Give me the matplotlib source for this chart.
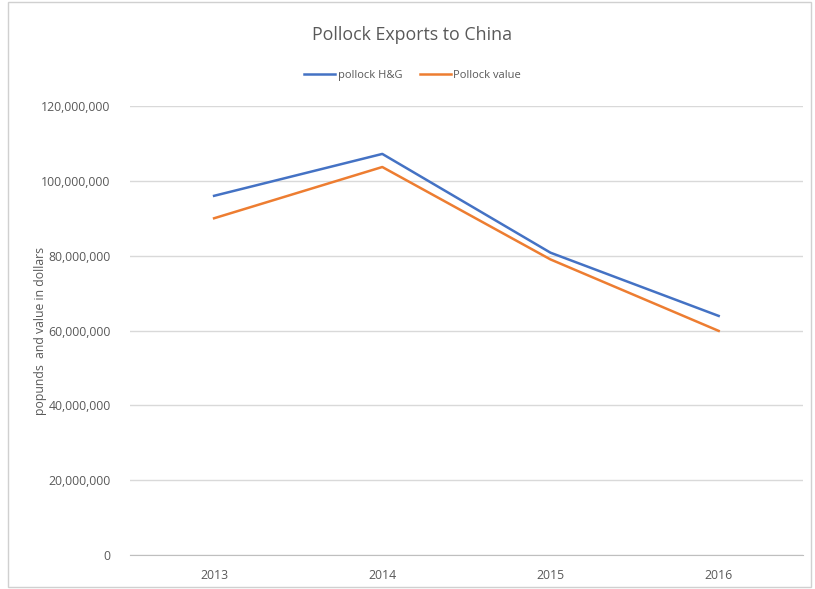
import matplotlib.pyplot as plt
from matplotlib.patches import Rectangle
from matplotlib.ticker import FuncFormatter

# yearly pollock exports to China
years = ['2013', '2014', '2015', '2016']
hg_pounds = [96000000, 107200000, 80800000, 63900000]
value_dollars = [90000000, 103700000, 79000000, 59900000]

plt.rcParams['font.family'] = ['Open Sans', 'DejaVu Sans']

fig = plt.figure(figsize=(8.15, 5.89), dpi=100)
ax = fig.add_axes([0.1595, 0.0577, 0.8255, 0.7623])

x = range(len(years))
ax.plot(x, hg_pounds, color='#4472C4', lw=1.8, label='pollock H&G')
ax.plot(x, value_dollars, color='#ED7D31', lw=1.8, label='Pollock value')

ax.set_xlim(-0.5, len(years) - 0.5)
ax.set_ylim(0, 120000000)
ax.set_yticks(range(0, 120000001, 20000000))
ax.yaxis.set_major_formatter(FuncFormatter(lambda v, p: f'{int(v):,}'))
ax.set_xticks(list(x))
ax.set_xticklabels(years)

ax.grid(axis='y', color='#d9d9d9', lw=1)
ax.set_axisbelow(True)
for s in ['left', 'right', 'top']:
    ax.spines[s].set_visible(False)
ax.spines['bottom'].set_color('#bfbfbf')
ax.tick_params(axis='both', length=0, labelsize=8.8, labelcolor='#595959')
ax.tick_params(axis='y', pad=14)
ax.tick_params(axis='x', pad=10)

ax.set_ylabel('popunds  and value in dollars', fontsize=8.8, color='#595959')
ax.yaxis.set_label_coords(-0.124, 0.5)

fig.text(0.505, 0.94, 'Pollock Exports to China', ha='center', va='center',
         fontsize=12.8, color='#595959')
leg = ax.legend(loc='center', bbox_to_anchor=(0.42, 1.069), ncol=2, frameon=False,
                fontsize=8, handlelength=2.8, handletextpad=0.2, columnspacing=1.6)
for t in leg.get_texts():
    t.set_color('#595959')

fig.patches.append(Rectangle((0.01, 0.003), 0.985, 0.994, transform=fig.transFigure,
                             fill=False, edgecolor='#d0d0d0', lw=1))

fig.savefig('out.png', dpi=100)
